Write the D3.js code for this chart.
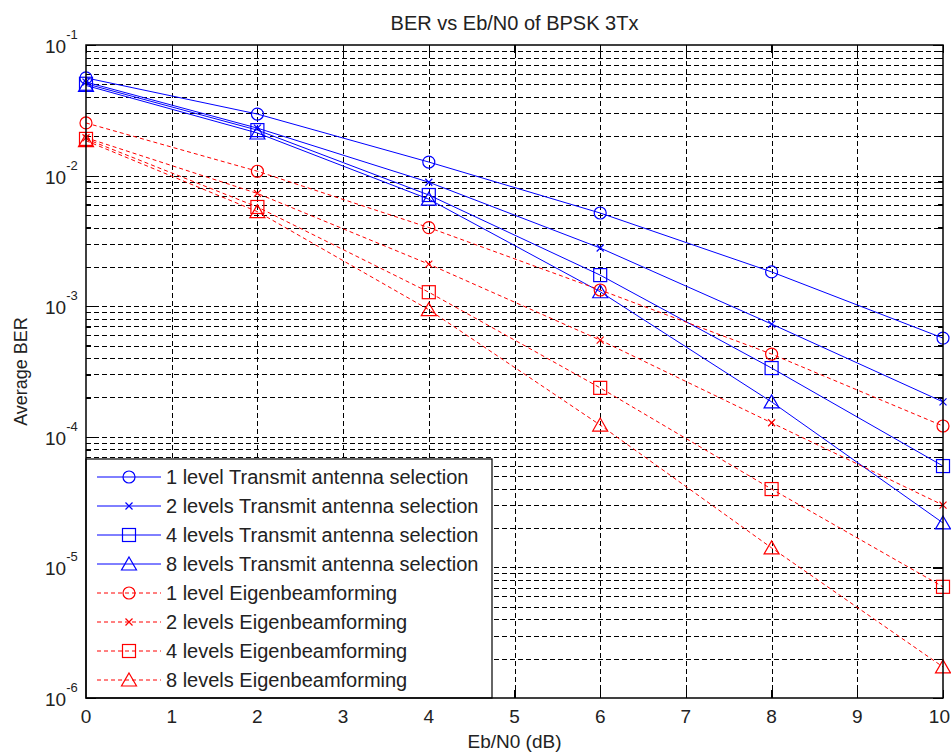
<!DOCTYPE html>
<html>
<head>
<meta charset="utf-8">
<script src="https://cdn.jsdelivr.net/npm/d3@7"></script>
<style>
  body { margin: 0; background: #fff; }
  svg { font-family: "Liberation Sans", Arial, sans-serif; }
</style>
</head>
<body>
<svg id="chart" width="951" height="752"></svg>
<script>
// data
const snr = [0, 2, 4, 6, 8, 10];
const tas1 = [0.056, 0.0296, 0.0127, 0.00517, 0.00183, 0.00057];
const tas2 = [0.052, 0.0231, 0.0089, 0.00279, 0.00073, 0.000185];
const tas4 = [0.0505, 0.0223, 0.0071, 0.00173, 0.000336, 0.0000597];
const tas8 = [0.049, 0.0212, 0.0066, 0.00129, 0.000185, 0.0000219];
const ebf1 = [0.0253, 0.0108, 0.0040, 0.00133, 0.00043, 0.000121];
const ebf2 = [0.0195, 0.0073, 0.0021, 0.00055, 0.000128, 0.000030];
const ebf4 = [0.0191, 0.00575, 0.00128, 0.000237, 0.0000398, 0.0000071];
const ebf8 = [0.0185, 0.0053, 0.00094, 0.000123, 0.0000141, 0.00000173];

const seriesNames = [
    "1 level Transmit antenna selection",
    "2 levels Transmit antenna selection",
    "4 levels Transmit antenna selection",
    "8 levels Transmit antenna selection",
    "1 level Eigenbeamforming",
    "2 levels Eigenbeamforming",
    "4 levels Eigenbeamforming",
    "8 levels Eigenbeamforming"
];
const seriesValues = [tas1, tas2, tas4, tas8, ebf1, ebf2, ebf4, ebf8];
const seriesMarkers = ["circle", "x", "square", "triangle", "circle", "x", "square", "triangle"];

const xTicks = [0, 1, 2, 3, 4, 5, 6, 7, 8, 9, 10];
const yExponents = [-1, -2, -3, -4, -5, -6];

let dimensions = {
    width: 951, height: 752,
    margin: { top: 45, bottom: 54, right: 8, left: 86 }
};
const innerW = dimensions.width - dimensions.margin.left - dimensions.margin.right;
const innerH = dimensions.height - dimensions.margin.top - dimensions.margin.bottom;

var svg = d3.select("#chart");
var g = svg.append("g")
    .attr("transform", `translate(${dimensions.margin.left},${dimensions.margin.top})`);

var x = d3.scaleLinear().domain([0, 10]).range([0, innerW]);
var y = d3.scaleLog().domain([1e-6, 1e-1]).range([innerH, 0]);

// minor + major log ticks
let yAll = [];
for (let e = -6; e < -1; e++) {
    for (let m = 1; m < 10; m++) yAll.push(m * Math.pow(10, e));
}
yAll.push(1e-1);
const yMajor = yExponents.map(e => Math.pow(10, e));

// grid
g.append("g")
    .attr("class", "grid")
    .call(d3.axisBottom(x).tickValues(xTicks.slice(1, -1)).tickSize(innerH).tickFormat(""))
    .call(s => s.select(".domain").remove());
g.append("g")
    .attr("class", "grid")
    .call(d3.axisLeft(y).tickValues(yAll.filter(v => v > 1.01e-6 && v < 0.099)).tickSize(-innerW).tickFormat(""))
    .call(s => s.select(".domain").remove());
g.selectAll(".grid line")
    .attr("stroke", "#000")
    .attr("stroke-width", 1)
    .attr("stroke-dasharray", "5,3")
    .attr("shape-rendering", "crispEdges");

// inward ticks on all four sides
g.append("g").call(d3.axisBottom(x).tickValues(xTicks).tickSize(-8).tickFormat(""))
    .attr("transform", `translate(0,${innerH})`);
g.append("g").call(d3.axisTop(x).tickValues(xTicks).tickSize(-8).tickFormat(""));
g.append("g").call(d3.axisLeft(y).tickValues(yAll).tickSize(-5).tickFormat(""));
g.append("g").call(d3.axisRight(y).tickValues(yAll).tickSize(-5).tickFormat(""))
    .attr("transform", `translate(${innerW},0)`);
g.append("g").call(d3.axisLeft(y).tickValues(yMajor).tickSize(-10).tickFormat(""));
g.append("g").call(d3.axisRight(y).tickValues(yMajor).tickSize(-10).tickFormat(""))
    .attr("transform", `translate(${innerW},0)`);
g.selectAll(".domain").remove();
g.selectAll(".tick line").filter(function () { return !this.closest(".grid"); })
    .attr("stroke", "#000").attr("stroke-width", 1.2).attr("shape-rendering", "crispEdges");

// x tick labels (last one pushed in so it is not clipped by the window)
g.selectAll(".xlab")
    .data(xTicks)
    .enter().append("text")
    .attr("x", (d, i) => i === xTicks.length - 1 ? innerW + 7 : x(d))
    .attr("y", innerH + 25)
    .attr("text-anchor", (d, i) => i === xTicks.length - 1 ? "end" : "middle")
    .attr("font-size", "19px")
    .attr("fill", "#222")
    .text(d => d);

// y tick labels 10^e
let ylab = g.selectAll(".ylab")
    .data(yExponents)
    .enter().append("text")
    .attr("x", -41)
    .attr("y", d => y(Math.pow(10, d)) + 8)
    .attr("font-size", "19px")
    .attr("fill", "#222");
ylab.append("tspan").text("10");
ylab.append("tspan").attr("dy", -14).attr("font-size", "13px").text(d => "-" + (-d));

// lines and markers
const colors = d => d < 4 ? "#0000ff" : "#ff0000";
var line = d3.line().x((d, i) => x(snr[i])).y(d => y(d));

function drawMarker(sel, type, color) {
    if (type === "circle") {
        sel.append("circle").attr("r", 6).attr("fill", "none").attr("stroke", color).attr("stroke-width", 1.2);
    } else if (type === "square") {
        sel.append("rect").attr("x", -6.5).attr("y", -6.5).attr("width", 13).attr("height", 13)
            .attr("fill", "none").attr("stroke", color).attr("stroke-width", 1.2);
    } else if (type === "triangle") {
        sel.append("path").attr("d", "M0,-7L7.5,6L-7.5,6Z")
            .attr("fill", "none").attr("stroke", color).attr("stroke-width", 1.2);
    } else {
        sel.append("path").attr("d", "M-3.5,-3.5L3.5,3.5M-3.5,3.5L3.5,-3.5")
            .attr("fill", "none").attr("stroke", color).attr("stroke-width", 1.2);
    }
}

seriesValues.forEach((vals, k) => {
    let c = colors(k);
    g.append("path")
        .datum(vals)
        .attr("fill", "none")
        .attr("stroke", c)
        .attr("stroke-width", 1)
        .attr("stroke-dasharray", k < 4 ? null : "4,3")
        .attr("d", line);
    vals.forEach((v, i) => {
        let m = g.append("g").attr("transform", `translate(${x(snr[i])},${y(v)})`);
        drawMarker(m, seriesMarkers[k], c);
    });
});

// legend
const legTop = 459 - dimensions.margin.top;
var legend = g.append("g");
legend.append("rect")
    .attr("x", 0).attr("y", legTop)
    .attr("width", 406).attr("height", innerH - legTop)
    .attr("fill", "#fff").attr("stroke", "#000").attr("stroke-width", 1.2);
seriesNames.forEach((name, k) => {
    let c = colors(k);
    let ly = legTop + 18 + k * 29;
    legend.append("line")
        .attr("x1", 11).attr("x2", 75).attr("y1", ly).attr("y2", ly)
        .attr("stroke", c).attr("stroke-width", 1)
        .attr("stroke-dasharray", k < 4 ? null : "4,3");
    let m = legend.append("g").attr("transform", `translate(43,${ly})`);
    drawMarker(m, seriesMarkers[k], c);
    legend.append("text")
        .attr("x", 80).attr("y", ly + 7)
        .attr("font-size", "20px")
        .attr("fill", "#222")
        .text(name);
});

// axes box
g.append("rect")
    .attr("width", innerW).attr("height", innerH)
    .attr("fill", "none").attr("stroke", "#000").attr("stroke-width", 1.5);

// Title
svg.append("text")
    .attr("x", dimensions.margin.left + innerW / 2)
    .attr("y", 30)
    .attr("text-anchor", "middle")
    .attr("font-size", "20px")
    .attr("fill", "#222")
    .text("BER vs Eb/N0 of BPSK 3Tx");

svg.append("text")
    .attr("x", dimensions.margin.left + innerW / 2)
    .attr("y", 748)
    .attr("text-anchor", "middle")
    .attr("font-size", "19px")
    .attr("fill", "#222")
    .text("Eb/N0 (dB)");

svg.append("text")
    .attr("transform", `translate(27,${dimensions.margin.top + innerH / 2}) rotate(-90)`)
    .attr("text-anchor", "middle")
    .attr("font-size", "18px")
    .attr("fill", "#222")
    .text("Average BER");
</script>
</body>
</html>
